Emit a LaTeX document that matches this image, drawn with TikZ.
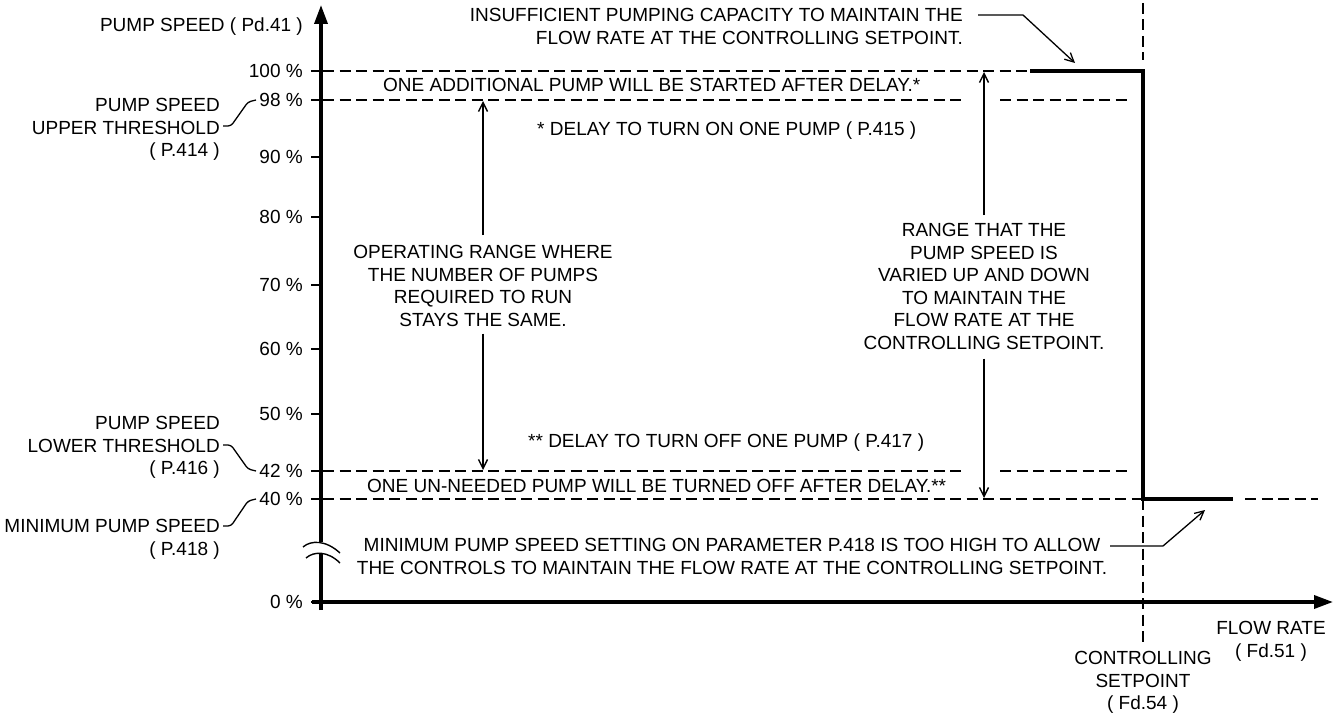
\documentclass[tikz,border=0pt]{standalone}
\usepackage{fontspec}
\setmainfont{Liberation Sans}
\usetikzlibrary{arrows.meta}
\begin{document}
\begin{tikzpicture}[x=1pt,y=-1pt,
  txt/.style={font=\fontsize{19}{22.5}\selectfont, inner sep=0pt, text height=13.6pt, text depth=0pt},
  mtxt/.style={font=\fontsize{19}{22.5}\selectfont, inner sep=0pt},
  ln/.style={line width=1.4pt},
  dsh/.style={line width=1.4pt, dash pattern=on 11pt off 5.5pt},
  thk/.style={line width=4pt},
  axisline/.style={line width=3.5pt},
  axisarrow/.style={line width=3.5pt, -{Triangle[length=19pt,width=13pt]}},
  barb/.style={line width=1.4pt, -{Straight Barb[length=9pt,width=9pt]}},
  lead/.style={line width=1.3pt, rounded corners=3pt},
  leadarrow/.style={line width=1.3pt, -{Straight Barb[length=9pt,width=9pt]}}
]
\useasboundingbox (0,0) rectangle (1339,714);

% ---------- axes ----------
\coordinate (O) at (321,602);
\coordinate (ytop) at (321,5);
\coordinate (ybot) at (321,610);
\coordinate (ybrkU) at (321,542);
\coordinate (ybrkL) at (321,553);
\coordinate (xleft) at (312,602);
\coordinate (xtip) at (1333,602);
\draw[axisarrow] (ybrkU) -- (ytop);
\draw[axisline] (ybot) -- (ybrkL);
\draw[axisarrow] (xleft) -- (xtip);
% break symbol
\draw[ln] (303,547) .. controls (311,540) and (326,540) .. (340,553);
\draw[ln] (306,558) .. controls (314,551) and (328,551) .. (340,563);

% ---------- tick labels ----------
\node[txt, anchor=east] (ylab) at (303,25) {PUMP SPEED ( Pd.41 )};
\foreach \v/\y in {100/71, 98/100, 90/157, 80/217, 70/285, 60/349, 50/414, 42/471, 40/499, 0/602} {
  \node[txt, anchor=east] (t\v) at (303,\y) {\v\ \%};
  \draw[ln] (311,\y) -- (321,\y);
}

% ---------- left annotations ----------
\node[mtxt, align=right, anchor=north east] (upth) at (220,98.2) {PUMP SPEED\\UPPER THRESHOLD\\( P.414 )};
\node[mtxt, align=right, anchor=north east] (loth) at (220,416.2) {PUMP SPEED\\LOWER THRESHOLD\\( P.416 )};
\node[mtxt, align=right, anchor=north east] (minsp) at (220,519.2) {MINIMUM PUMP SPEED\\( P.418 )};
\coordinate (upthA) at (223,126);
\coordinate (lothA) at (223,445);
\coordinate (minspA) at (223,526);
\draw[lead] (upthA) -- (231,126) -- (248,102) -- (256,100);
\draw[lead] (lothA) -- (231,445) -- (248,469) -- (256,471);
\draw[lead] (minspA) -- (231,526) -- (248,501) -- (256,499);

% ---------- dashed reference lines ----------
\draw[dsh] (323,71) -- (1030,71);
\draw[dsh] (323,100) -- (966,100);
\draw[dsh] (1000,100) -- (1132,100);
\draw[dsh] (323,471) -- (966,471);
\draw[dsh] (1000,471) -- (1132,471);
\draw[dsh] (323,499) -- (1143,499);
\draw[dsh] (1245,499) -- (1318,499);
\draw[dsh] (1143,3) -- (1143,60);
\draw[dsh] (1143,499) -- (1143,642);

% ---------- step curve ----------
\draw[thk] (1030,71) -- (1143,71) -- (1143,499) -- (1233,499);

% ---------- texts in plot ----------
\node[txt, anchor=west] (addp) at (383,85) {ONE ADDITIONAL PUMP WILL BE STARTED AFTER DELAY.*};
\node[txt, anchor=west] (d415) at (537,129) {* DELAY TO TURN ON ONE PUMP ( P.415 )};
\node[txt, anchor=west] (d417) at (528,441) {** DELAY TO TURN OFF ONE PUMP ( P.417 )};
\node[txt, anchor=west] (unneed) at (367,486) {ONE UN-NEEDED PUMP WILL BE TURNED OFF AFTER DELAY.**};

\node[mtxt, align=center, anchor=north] (oprange) at (483,245.2) {OPERATING RANGE WHERE\\THE NUMBER OF PUMPS\\REQUIRED TO RUN\\STAYS THE SAME.};
\node[mtxt, align=center, anchor=north] (vrange) at (984,223.2) {RANGE THAT THE\\PUMP SPEED IS\\VARIED UP AND DOWN\\TO MAINTAIN THE\\FLOW RATE AT THE\\CONTROLLING SETPOINT.};

\coordinate (op98) at (483,101);
\coordinate (op42) at (483,470);
\coordinate (vr100) at (984,72);
\coordinate (vr40) at (984,498);
\draw[barb] ([yshift=10pt]oprange.north) -- (op98);
\draw[barb] ([yshift=-7pt]oprange.south) -- (op42);
\draw[barb] ([yshift=8pt]vrange.north) -- (vr100);
\draw[barb] ([yshift=-9pt]vrange.south) -- (vr40);

% ---------- top note ----------
\node[mtxt, align=right, anchor=north east] (insuf) at (963,8.2) {INSUFFICIENT PUMPING CAPACITY TO MAINTAIN THE\\FLOW RATE AT THE CONTROLLING SETPOINT.};
\coordinate (insufA) at (978,15);
\coordinate (insufTip) at (1075,63);
\draw[leadarrow] (insufA) -- (1023,15) -- (insufTip);

% ---------- bottom note ----------
\node[mtxt, align=center, anchor=north] (minset) at (732,538.2) {MINIMUM PUMP SPEED SETTING ON PARAMETER P.418 IS TOO HIGH TO ALLOW\\THE CONTROLS TO MAINTAIN THE FLOW RATE AT THE CONTROLLING SETPOINT.};
\coordinate (minsetA) at (1110,546);
\coordinate (minsetTip) at (1205,510);
\draw[leadarrow] (minsetA) -- (1163,546) -- (minsetTip);

% ---------- x axis labels ----------
\node[mtxt, align=center, anchor=north] (flow) at (1271,621.2) {FLOW RATE\\( Fd.51 )};
\node[mtxt, align=center, anchor=north] (ctrl) at (1143,651.2) {CONTROLLING\\SETPOINT\\( Fd.54 )};
\end{tikzpicture}
\end{document}
